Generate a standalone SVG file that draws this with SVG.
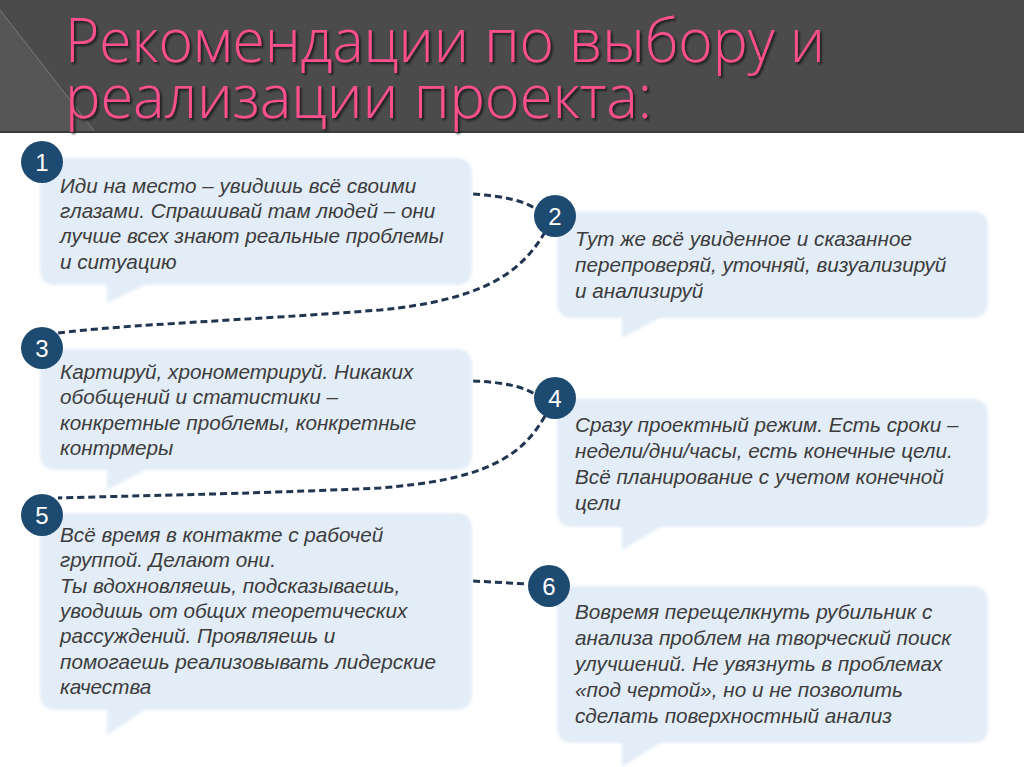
<svg xmlns="http://www.w3.org/2000/svg" width="1024" height="767" viewBox="0 0 1024 767">
<defs>
<style>
.title{font-family:"Open Sans","DejaVu Sans","Liberation Sans",sans-serif;font-weight:300;font-size:60px;fill:#ff4f8f}
.bubble{fill:#e3edf8}
.badge{fill:#1d4a70}
.num{font-family:"Liberation Sans",Arial,sans-serif;font-size:24px;fill:#ffffff;text-anchor:middle}
.txt{font-family:"Liberation Sans",Arial,sans-serif;font-size:20.7px;font-style:italic;fill:#3c3c3c}
.conn{fill:none;stroke:#1f3550;stroke-width:3;stroke-dasharray:7 4}
</style>
<filter id="soft" x="-5%" y="-5%" width="110%" height="110%"><feGaussianBlur stdDeviation="1.5"/></filter>
<filter id="tshadow" x="-5%" y="-20%" width="110%" height="140%"><feDropShadow dx="2" dy="2" stdDeviation="0.8" flood-color="#151515" flood-opacity="0.9"/></filter>
</defs>
<rect x="0" y="0" width="1024" height="767" fill="#ffffff"/>
<g id="header">
<rect x="0" y="0" width="1024" height="132" fill="#4b4b4b"/>
<polygon points="0,0 0,132 95,132 0,10" fill="#565656"/>
<line x1="0" y1="10" x2="95" y2="132" stroke="#7a7a7a" stroke-width="1"/>
<line x1="0" y1="132" x2="1024" y2="132" stroke="#3a3a3a" stroke-width="2"/>
<g filter="url(#tshadow)">
<text class="title" x="65" y="62" textLength="760" lengthAdjust="spacingAndGlyphs">Рекомендации по выбору и</text>
<text class="title" x="65" y="118" textLength="587" lengthAdjust="spacingAndGlyphs">реализации проекта:</text>
</g>
</g>
<g id="connectors">
<path class="conn" d="M473,194 C500,196 525,200 537,210"/>
<path class="conn" d="M545,232 C520,275 480,300 380,310 C250,320 120,325 58,333"/>
<path class="conn" d="M473,381 C500,382 525,386 537,396"/>
<path class="conn" d="M545,416 C520,460 480,480 380,488 C250,494 120,496 58,498"/>
<path class="conn" d="M473,581 L527,584"/>
</g>
<g id="node1">
<path class="bubble" filter="url(#soft)" d="M56,158 H456 Q472,158 472,174 V269 Q472,285 456,285 H145 L107,303 V285 H56 Q40,285 40,269 V174 Q40,158 56,158 Z"/>
<circle class="badge" cx="42" cy="162" r="21"/>
<text class="num" x="42" y="171">1</text>
<text class="txt" x="60" y="193">Иди на место – увидишь всё своими</text>
<text class="txt" x="60" y="218">глазами. Спрашивай там людей – они</text>
<text class="txt" x="60" y="243">лучше всех знают реальные проблемы</text>
<text class="txt" x="60" y="269">и ситуацию</text>
</g>
<g id="node2">
<path class="bubble" filter="url(#soft)" d="M573,211 H972 Q988,211 988,227 V302 Q988,318 972,318 H660 L622,338 V318 H573 Q557,318 557,302 V227 Q557,211 573,211 Z"/>
<circle class="badge" cx="555" cy="216" r="21"/>
<text class="num" x="555" y="225">2</text>
<text class="txt" x="575" y="246">Тут же всё увиденное и сказанное</text>
<text class="txt" x="575" y="272">перепроверяй, уточняй, визуализируй</text>
<text class="txt" x="575" y="298">и анализируй</text>
</g>
<g id="node3">
<path class="bubble" filter="url(#soft)" d="M56,349 H456 Q472,349 472,365 V454 Q472,470 456,470 H145 L107,490 V470 H56 Q40,470 40,454 V365 Q40,349 56,349 Z"/>
<circle class="badge" cx="42" cy="348" r="21"/>
<text class="num" x="42" y="357">3</text>
<text class="txt" x="60" y="379">Картируй, хронометрируй. Никаких</text>
<text class="txt" x="60" y="404">обобщений и статистики –</text>
<text class="txt" x="60" y="430">конкретные проблемы, конкретные</text>
<text class="txt" x="60" y="455">контрмеры</text>
</g>
<g id="node4">
<path class="bubble" filter="url(#soft)" d="M573,399 H972 Q988,399 988,415 V511 Q988,527 972,527 H660 L622,550 V527 H573 Q557,527 557,511 V415 Q557,399 573,399 Z"/>
<circle class="badge" cx="555" cy="398" r="21"/>
<text class="num" x="555" y="407">4</text>
<text class="txt" x="575" y="432">Сразу проектный режим. Есть сроки –</text>
<text class="txt" x="575" y="458">недели/дни/часы, есть конечные цели.</text>
<text class="txt" x="575" y="484">Всё планирование с учетом конечной</text>
<text class="txt" x="575" y="510">цели</text>
</g>
<g id="node5">
<path class="bubble" filter="url(#soft)" d="M56,513 H456 Q472,513 472,529 V694 Q472,710 456,710 H145 L107,735 V710 H56 Q40,710 40,694 V529 Q40,513 56,513 Z"/>
<circle class="badge" cx="42" cy="515" r="21"/>
<text class="num" x="42" y="524">5</text>
<text class="txt" x="60" y="542">Всё время в контакте с рабочей</text>
<text class="txt" x="60" y="567">группой. Делают они.</text>
<text class="txt" x="60" y="593">Ты вдохновляешь, подсказываешь,</text>
<text class="txt" x="60" y="618">уводишь от общих теоретических</text>
<text class="txt" x="60" y="643">рассуждений. Проявляешь и</text>
<text class="txt" x="60" y="669">помогаешь реализовывать лидерские</text>
<text class="txt" x="60" y="694">качества</text>
</g>
<g id="node6">
<path class="bubble" filter="url(#soft)" d="M573,586 H972 Q988,586 988,602 V727 Q988,743 972,743 H660 L622,767 V743 H573 Q557,743 557,727 V602 Q557,586 573,586 Z"/>
<circle class="badge" cx="549" cy="586" r="21"/>
<text class="num" x="549" y="595">6</text>
<text class="txt" x="575" y="619">Вовремя перещелкнуть рубильник с</text>
<text class="txt" x="575" y="645">анализа проблем на творческий поиск</text>
<text class="txt" x="575" y="671">улучшений. Не увязнуть в проблемах</text>
<text class="txt" x="575" y="697">«под чертой», но и не позволить</text>
<text class="txt" x="575" y="723">сделать поверхностный анализ</text>
</g>
</svg>
